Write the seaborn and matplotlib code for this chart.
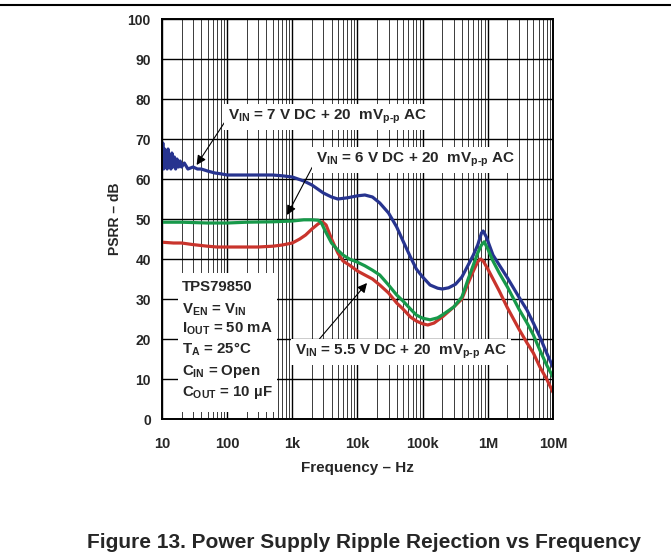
"""
PSRR vs frequency for the TPS79850 at three input voltages
"""

import matplotlib
matplotlib.use("Agg")
import pandas as pd
import matplotlib.pyplot as plt
import seaborn as sns
from matplotlib.ticker import FixedLocator, FixedFormatter, LogLocator, NullFormatter
from matplotlib.patches import Rectangle
from matplotlib.lines import Line2D

# VIN = 7 V (blue)
freq_7v = [10, 10.3, 10.6, 11, 11.3, 11.6, 12, 12.4, 12.8, 13.2, 13.7, 14.2, 14.8, 15.5,
           16.2, 17, 18, 19, 20, 22, 25, 30, 35,
           40, 50, 65, 80, 100, 150, 200, 300, 500, 700, 1000, 1500, 2000, 3000, 4000,
           5000, 7000, 10000, 13000, 17000, 22000, 30000, 40000, 50000, 65000, 80000,
           100000, 130000, 170000, 200000, 250000, 320000, 400000, 500000, 600000,
           700000, 800000, 850000, 950000, 1200000, 1500000, 2000000, 3000000,
           4000000, 5000000, 6300000, 8000000, 10000000]
psrr_7v = [63.5, 69, 62.5, 67.5, 63, 66, 62.5, 67.5, 63, 66, 62.5, 66.5, 63, 65.5,
           62.5, 65, 63, 64.5, 63, 64, 62.5, 63, 62.5,
           62.5, 62, 61.5, 61.3, 61, 61, 61, 61, 61, 60.8, 60.5, 59.5, 58.5, 56.5, 55.5,
           55, 55.3, 55.8, 56, 55.5, 54, 51.5, 48, 44.5, 40.5, 37.5,
           35.5, 33.5, 32.7, 32.5, 32.8, 33.7, 35.5, 38.5, 41,
           43.5, 46.5, 47, 45.5, 41, 38.5, 35.3, 30.5,
           27.2, 24, 20.5, 16.5, 13]

# VIN = 6 V (green)
freq_6v = [10, 20, 50, 100, 200, 500, 1000, 1500, 2000, 2500, 2800, 3200, 4000, 5000,
           6000, 7500, 10000, 13000, 17000, 22000, 30000, 40000, 50000, 65000, 80000,
           100000, 130000, 170000, 200000, 300000, 400000, 500000, 600000, 700000,
           800000, 880000, 1000000, 1200000, 1500000, 2000000, 3000000, 4000000,
           5000000, 6300000, 8000000, 10000000]
psrr_6v = [49.2, 49.2, 49, 49, 49.2, 49.3, 49.5, 49.8, 49.8, 49.7, 49, 47, 44, 42.2,
           41, 40, 39.2, 38.3, 37.2, 36, 33.5, 31, 29.5, 27.5, 26,
           25.2, 24.8, 25.3, 26, 28, 30.5, 35, 38.5, 41.5,
           43.5, 44.3, 42.5, 39.5, 36.5, 33, 27.5, 24,
           21, 17.2, 13.5, 10.5]

# VIN = 5.5 V (red)
freq_55v = [10, 15, 20, 30, 50, 70, 100, 200, 300, 500, 700, 1000, 1300, 1600, 2000,
            2500, 2900, 3300, 4000, 5000, 6000, 7500, 10000, 13000, 17000, 22000,
            30000, 40000, 50000, 65000, 80000, 100000, 120000, 150000, 200000,
            300000, 400000, 500000, 600000, 700000, 770000, 850000, 1000000,
            1500000, 2000000, 3000000, 4000000, 5000000, 6300000, 8000000, 10000000]
psrr_55v = [44.2, 44, 44, 43.6, 43.2, 43, 43, 43, 43, 43.2, 43.5, 44, 45, 46, 47.5,
            48.8, 49.3, 48.5, 45, 41.5, 39.5, 38.5, 37, 36, 35, 33.5,
            31.5, 29, 27.5, 25.5, 24.5, 23.8, 23.5, 24, 25.5,
            28, 30, 34, 37, 39.3, 40, 39.5, 37.5,
            32, 27.8, 22.5, 19, 16.5, 13, 10, 6.7]

series_names = ["7 V", "5.5 V", "6 V"]
series_colors = ["#27348f", "#c9342c", "#17994a"]

x_ticks = [10, 100, 1e3, 1e4, 1e5, 1e6, 1e7]
x_tick_labels = ["10", "100", "1k", "10k", "100k", "1M", "10M"]
y_ticks = [0, 10, 20, 30, 40, 50, 60, 70, 80, 90, 100]

info_lines = [
    "TPS79850",
    r"$\mathrm{V_{EN}}$ = $\mathrm{V_{IN}}$",
    r"$\mathrm{I_{OUT}}$ = 50 mA",
    r"$\mathrm{T_A}$ = 25°C",
    r"$\mathrm{C_{IN}}$ = Open",
    r"$\mathrm{C_{OUT}}$ = 10 µF",
]


def build_frame():
    parts = [
        pd.DataFrame({"freq": freq_7v, "psrr": psrr_7v, "series": "7 V"}),
        pd.DataFrame({"freq": freq_55v, "psrr": psrr_55v, "series": "5.5 V"}),
        pd.DataFrame({"freq": freq_6v, "psrr": psrr_6v, "series": "6 V"}),
    ]
    return pd.concat(parts, ignore_index=True)


def main():
    sns.set_style("white")
    plt.rcParams["font.family"] = ["Liberation Sans", "DejaVu Sans"]
    plt.rcParams["font.weight"] = "bold"
    plt.rcParams["mathtext.fontset"] = "custom"
    plt.rcParams["mathtext.rm"] = "Liberation Sans:bold"
    plt.rcParams["mathtext.it"] = "Liberation Sans:bold"
    plt.rcParams["mathtext.bf"] = "Liberation Sans:bold"

    df = build_frame()

    fig = plt.figure(figsize=(6.71, 5.56), dpi=100)
    ax = fig.add_axes([0.2414, 0.2464, 0.5827, 0.7194])
    ax.set_xscale("log")

    sns.lineplot(data=df, x="freq", y="psrr", hue="series", hue_order=series_names,
                 palette=dict(zip(series_names, series_colors)), estimator=None,
                 sort=False, lw=2.3, legend=False, ax=ax)

    ax.set_xlim(10, 1e7)
    ax.set_ylim(0, 100)

    # grid: decades black, minor lines dark grey
    ax.xaxis.set_major_locator(FixedLocator(x_ticks))
    ax.xaxis.set_major_formatter(FixedFormatter(x_tick_labels))
    ax.xaxis.set_minor_locator(LogLocator(base=10, subs=range(2, 10), numticks=20))
    ax.xaxis.set_minor_formatter(NullFormatter())
    ax.set_yticks(y_ticks)
    ax.set_axisbelow(True)
    ax.grid(which="major", axis="both", color="black", lw=1.0)
    ax.grid(which="minor", axis="x", color="#3a3a3a", lw=0.7)

    ax.tick_params(which="both", length=0)
    ax.tick_params(axis="x", pad=13, labelsize=10.5)
    ax.tick_params(axis="y", pad=8, labelsize=10)
    for lab in ax.get_xticklabels() + ax.get_yticklabels():
        lab.set_fontweight("bold")

    for sp in ax.spines.values():
        sp.set_color("black")
        sp.set_linewidth(1.4)

    ax.set_xlabel("Frequency – Hz", fontsize=11, fontweight="bold", labelpad=7)
    ax.set_ylabel("PSRR – dB", fontsize=10, fontweight="bold", labelpad=4)

    box = dict(boxstyle="square,pad=0.25", fc="white", ec="none")
    arrow = dict(arrowstyle="-|>", color="black", lw=0.8, shrinkA=0, shrinkB=0,
                 mutation_scale=14)

    ax.annotate(r"$\mathrm{V_{IN}}$ = 7 V DC + 20  mV$_\text{p-p}$ AC",
                xy=(34, 63.5), xytext=(0.169, 0.755), textcoords="axes fraction",
                ha="left", va="center", fontsize=11, fontweight="bold", bbox=box,
                arrowprops=dict(arrow, relpos=(0, 0.5)), zorder=5)
    ax.annotate(r"$\mathrm{V_{IN}}$ = 6 V DC + 20  mV$_\text{p-p}$ AC",
                xy=(830, 51), xytext=(0.394, 0.6475), textcoords="axes fraction",
                ha="left", va="center", fontsize=11, fontweight="bold", bbox=box,
                arrowprops=dict(arrow, relpos=(0, 0.5)), zorder=5)
    ax.annotate(r"$\mathrm{V_{IN}}$ = 5.5 V DC + 20  mV$_\text{p-p}$ AC",
                xy=(14000, 34), xytext=(0.34, 0.1675), textcoords="axes fraction",
                ha="left", va="center", fontsize=11, fontweight="bold", bbox=box,
                arrowprops=dict(arrow, relpos=(0.1, 1.0)), zorder=5)

    # conditions box
    ax.add_patch(Rectangle((0.041, 0.0175), 0.253, 0.3475, transform=ax.transAxes,
                           fc="white", ec="none", zorder=4))
    line_y = [0.330, 0.2725, 0.225, 0.175, 0.120, 0.0675]
    for txt, yy in zip(info_lines, line_y):
        ax.text(0.051, yy, txt, transform=ax.transAxes, ha="left", va="center",
                fontsize=10.8, fontweight="bold", zorder=5)

    fig.add_artist(Line2D([0, 1], [1 - 5 / 556, 1 - 5 / 556], color="black", lw=1.5))
    fig.text(0.542, 1 - 543 / 556, "Figure 13. Power Supply Ripple Rejection vs Frequency",
             ha="center", va="center", fontsize=15, fontweight="bold")

    fig.savefig("out.png", dpi=100)


if __name__ == "__main__":
    main()
